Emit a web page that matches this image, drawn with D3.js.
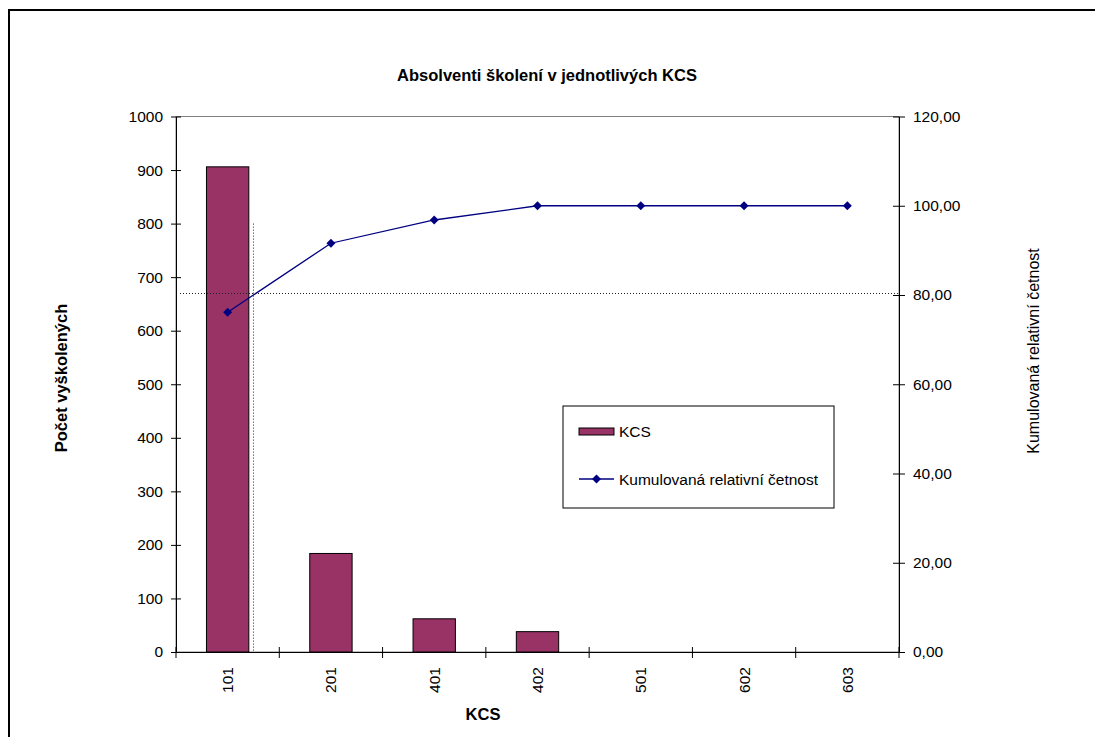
<!DOCTYPE html>
<html>
<head>
<meta charset="utf-8">
<script src="https://cdn.jsdelivr.net/npm/d3@7/dist/d3.min.js"></script>
<style>
  html, body { margin: 0; padding: 0; background: #fff; }
  svg { display: block; font-family: Arial, "Liberation Sans", sans-serif; }
</style>
</head>
<body>
<svg id="chart" width="1095" height="737"></svg>
<script>
// data
const categories = ['101', '201', '401', '402', '501', '602', '603'];
const counts = [906, 184, 62, 38, 0, 0, 0];
const cumulative = [76.13, 91.60, 96.81, 100, 100, 100, 100];
const leftTicks = [0, 100, 200, 300, 400, 500, 600, 700, 800, 900, 1000];
const rightTicks = [0, 20, 40, 60, 80, 100, 120];
const paretoLimit = 80;      // horizontal dotted line, right axis
const verticalTop = 800;     // top of the vertical dotted line, left axis

const BAR_COLOR = '#993366';
const LINE_COLOR = '#000080';

const margin = { top: 116.5, left: 176, right: 1095 - 899, bottom: 737 - 652 };
const width = 1095 - margin.left - margin.right;
const height = 737 - margin.top - margin.bottom;

const csLocale = d3.formatLocale({ decimal: ',', thousands: ' ', grouping: [3], currency: ['', ''] });
const fmt2 = csLocale.format('.2f');

const svg = d3.select('#chart');

// outer frame (runs off the bottom/right edge)
svg.append('rect')
  .attr('x', 9).attr('y', 10)
  .attr('width', 1110).attr('height', 760)
  .attr('fill', 'none')
  .attr('stroke', '#000')
  .attr('stroke-width', 2);

const x = d3.scaleBand().domain(categories).range([0, width]).padding(0);
const yL = d3.scaleLinear().domain([0, 1000]).range([height, 0]);
const yR = d3.scaleLinear().domain([0, 120]).range([height, 0]);

const main = svg.append('g')
  .attr('transform', 'translate(' + margin.left + ',' + margin.top + ')');

// plot area border (only the top shows)
main.append('rect')
  .attr('width', width).attr('height', height)
  .attr('fill', 'none')
  .attr('stroke', '#808080')
  .attr('stroke-width', 1);

// bars
const barW = x.bandwidth() * 0.41;
main.selectAll('.bar')
  .data(counts)
  .enter().append('rect')
  .attr('class', 'bar')
  .attr('x', (d, i) => x(categories[i]) + (x.bandwidth() - barW) / 2)
  .attr('y', d => yL(d))
  .attr('width', barW)
  .attr('height', d => height - yL(d))
  .attr('fill', BAR_COLOR)
  .attr('stroke', '#000')
  .attr('stroke-width', 1);

// dotted pareto lines: 80 % level and where the curve crosses it
let crossX = x(categories[0]) + x.bandwidth() / 2;
for (let i = 1; i < cumulative.length; i++) {
  if (cumulative[i] >= paretoLimit) {
    const x0 = x(categories[i - 1]) + x.bandwidth() / 2;
    const x1 = x(categories[i]) + x.bandwidth() / 2;
    const t = (paretoLimit - cumulative[i - 1]) / (cumulative[i] - cumulative[i - 1]);
    crossX = x0 + t * (x1 - x0);
    break;
  }
}

main.append('line')
  .attr('x1', 4).attr('x2', width)
  .attr('y1', yR(paretoLimit) - 1.5).attr('y2', yR(paretoLimit) - 1.5)
  .attr('stroke', '#222')
  .attr('stroke-width', 1)
  .attr('stroke-dasharray', '1,2');

main.append('line')
  .attr('x1', crossX).attr('x2', crossX)
  .attr('y1', yL(verticalTop)).attr('y2', height)
  .attr('stroke', '#222')
  .attr('stroke-width', 1)
  .attr('stroke-dasharray', '1,2');

// cumulative line
const line = d3.line()
  .x((d, i) => x(categories[i]) + x.bandwidth() / 2)
  .y(d => yR(d));

main.append('path')
  .datum(cumulative)
  .attr('fill', 'none')
  .attr('stroke', LINE_COLOR)
  .attr('stroke-width', 1.3)
  .attr('d', line);

const diamond = d3.symbol().type(d3.symbolSquare).size(40);
main.selectAll('.marker')
  .data(cumulative)
  .enter().append('path')
  .attr('class', 'marker')
  .attr('d', diamond)
  .attr('transform', (d, i) => 'translate(' + (x(categories[i]) + x.bandwidth() / 2) + ',' + yR(d) + ') rotate(45)')
  .attr('fill', LINE_COLOR);

// axes
const styleAxis = (g, fontSize) => {
  g.select('.domain').attr('stroke', '#000');
  g.selectAll('.tick line').attr('stroke', '#000');
  g.selectAll('.tick text')
    .attr('fill', '#000')
    .style('font-family', 'Arial, "Liberation Sans", sans-serif')
    .style('font-size', fontSize);
};

const leftAxis = main.append('g')
  .call(d3.axisLeft(yL).tickValues(leftTicks).tickFormat(d3.format('d')).tickSize(5).tickSizeOuter(0).tickPadding(8));
leftAxis.selectAll('.tick line').attr('x1', 5);
styleAxis(leftAxis, '15.5px');

const rightAxis = main.append('g')
  .attr('transform', 'translate(' + width + ',0)')
  .call(d3.axisRight(yR).tickValues(rightTicks).tickFormat(fmt2).tickSize(6).tickSizeOuter(0).tickPadding(8));
rightAxis.selectAll('.tick line').attr('x1', -6);
styleAxis(rightAxis, '15.5px');

const bottomAxis = main.append('g')
  .attr('transform', 'translate(0,' + height + ')')
  .call(d3.axisBottom(x).tickSize(0).tickSizeOuter(0));
bottomAxis.selectAll('.tick text')
  .attr('transform', 'rotate(-90)')
  .attr('text-anchor', 'end')
  .attr('x', -15)
  .attr('y', 0)
  .attr('dy', '0.35em');
styleAxis(bottomAxis, '15.5px');

// category boundary ticks, crossing the axis
bottomAxis.selectAll('.bound')
  .data(categories.concat(['end']))
  .enter().append('line')
  .attr('class', 'bound')
  .attr('x1', (d, i) => i < categories.length ? x(d) : width)
  .attr('x2', (d, i) => i < categories.length ? x(d) : width)
  .attr('y1', -5).attr('y2', 6)
  .attr('stroke', '#000');

// titles
svg.append('text')
  .attr('x', 547).attr('y', 81)
  .attr('text-anchor', 'middle')
  .style('font-size', '16.5px')
  .style('font-weight', 'bold')
  .text('Absolventi školení v jednotlivých KCS');

svg.append('text')
  .attr('x', 483).attr('y', 720)
  .attr('text-anchor', 'middle')
  .style('font-size', '16.5px')
  .style('font-weight', 'bold')
  .text('KCS');

svg.append('text')
  .attr('transform', 'translate(67,378) rotate(-90)')
  .attr('text-anchor', 'middle')
  .style('font-size', '16.5px')
  .style('font-weight', 'bold')
  .text('Počet vyškolených');

svg.append('text')
  .attr('transform', 'translate(1039,351) rotate(-90)')
  .attr('text-anchor', 'middle')
  .style('font-size', '16px')
  .text('Kumulovaná relativní četnost');

// legend
const legend = svg.append('g').attr('transform', 'translate(563,406)');
legend.append('rect')
  .attr('width', 271).attr('height', 102)
  .attr('fill', '#fff')
  .attr('stroke', '#000')
  .attr('stroke-width', 1);

legend.append('rect')
  .attr('x', 16).attr('y', 22)
  .attr('width', 35).attr('height', 7)
  .attr('fill', BAR_COLOR)
  .attr('stroke', '#000');
legend.append('text')
  .attr('x', 56).attr('y', 31)
  .style('font-size', '15.5px')
  .text('KCS');

legend.append('line')
  .attr('x1', 16).attr('x2', 51)
  .attr('y1', 73).attr('y2', 73)
  .attr('stroke', LINE_COLOR)
  .attr('stroke-width', 1.3);
legend.append('path')
  .attr('d', diamond)
  .attr('transform', 'translate(33.5,73) rotate(45)')
  .attr('fill', LINE_COLOR);
legend.append('text')
  .attr('x', 56).attr('y', 79)
  .style('font-size', '15.5px')
  .text('Kumulovaná relativní četnost');
</script>
</body>
</html>
